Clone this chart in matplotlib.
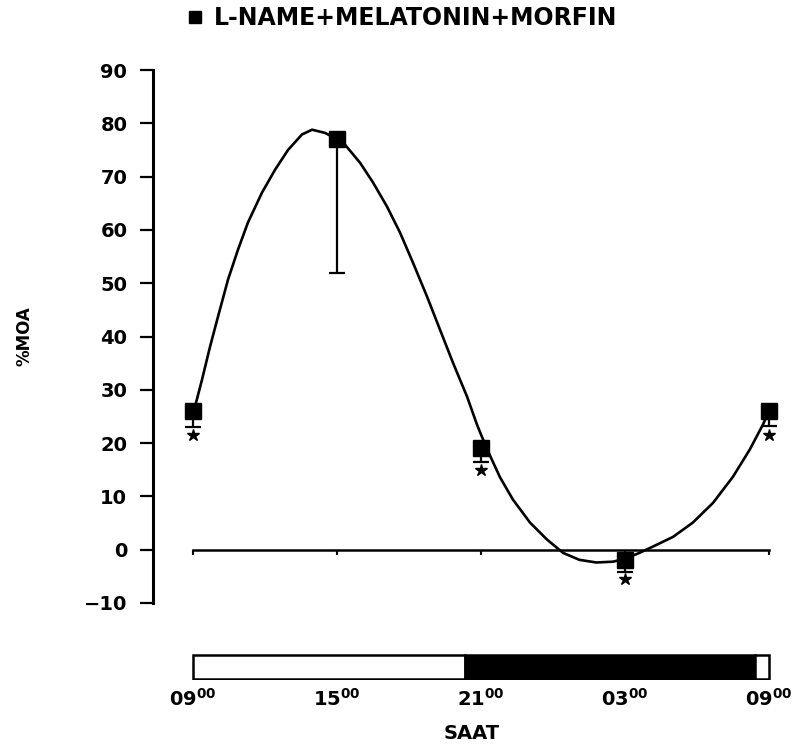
import numpy as np
import matplotlib.pyplot as plt
from matplotlib.lines import Line2D

plt.rcParams['font.family'] = 'DejaVu Sans'
plt.rcParams['font.weight'] = 'bold'
plt.rcParams['mathtext.fontset'] = 'dejavusans'
plt.rcParams['mathtext.default'] = 'bf'

# hours after 09:00
hours = [0, 6, 12, 18, 24]
moa_mean = [26, 77, 19, -2, 26]
moa_err_low = [3, 25, 2.5, 2.2, 2.7]
star_hours = [0, 12, 18, 24]
star_vals = [21.5, 15, -5.5, 21.5]
tick_labels = [r'$\mathbf{09^{00}}$', r'$\mathbf{15^{00}}$', r'$\mathbf{21^{00}}$',
               r'$\mathbf{03^{00}}$', r'$\mathbf{09^{00}}$']

# fitted rhythm curve
fit_hours = [0, 0.08, 0.375, 0.71, 1.04, 1.46, 1.875, 2.29, 2.875, 3.42, 3.96, 4.54,
             4.96, 5.5, 5.79, 6.33, 6.96, 7.5, 8.08, 8.625, 9.17, 9.75, 10.29, 10.83,
             11.42, 11.83, 12.0, 12.38, 12.79, 13.33, 14.04, 14.75, 15.42, 16.1, 16.8,
             17.5, 18.0, 18.6, 19.17, 20.0, 20.83, 21.67, 22.5, 23.2, 23.75, 24]
fit_vals = [26, 26.8, 31.9, 38.1, 43.7, 50.7, 56.3, 61.4, 67.0, 71.3, 75.0, 77.9,
            78.8, 78.2, 77.5, 76.0, 72.6, 68.9, 64.4, 59.5, 53.8, 47.5, 41.3, 35.1,
            28.7, 23.5, 21.6, 17.6, 13.6, 9.4, 5.1, 1.9, -0.6, -1.9, -2.4,
            -2.25, -1.7, -0.6, 0.6, 2.4, 5.1, 8.8, 13.7, 18.8, 23.5, 26]

# light / dark phases (hours after 09:00)
phase_start = [0, 11.33, 23.42]
phase_end = [11.33, 23.42, 24]
phase_colors = ['white', 'black', 'white']

W, H = 798, 750
fig = plt.figure(figsize=(W / 100, H / 100), dpi=100)

x0, x1 = -1.667, 24.875
ax = fig.add_axes([153 / W, (H - 603) / H, (x1 - x0) * 24 / W, 533 / H])
ax.set_xlim(x0, x1)
ax.set_ylim(-10, 90)
for s in ['top', 'right', 'bottom']:
    ax.spines[s].set_visible(False)
ax.spines['left'].set_linewidth(2.2)
ax.set_xticks([])
ax.set_yticks(np.arange(-10, 91, 10))
ax.tick_params(axis='y', length=9.5, width=1.6, pad=9, labelsize=14)
ax.set_ylabel('%MOA', fontsize=12, fontweight='bold', labelpad=36)

# zero reference line with small down ticks
ax.plot([hours[0], hours[-1]], [0, 0], color='black', lw=1.8)
ax.vlines(hours, -1.0, 0, color='black', lw=1.5)

ax.plot(fit_hours, fit_vals, color='black', lw=1.9, solid_joinstyle='round')
ax.errorbar(hours, moa_mean, yerr=[moa_err_low, np.zeros(len(hours))], fmt='none',
            ecolor='black', elinewidth=1.6, capsize=6, capthick=1.6)
ax.plot(hours, moa_mean, 's', color='black', markersize=11,
        label='L-NAME+MELATONIN+MORFIN')
ax.plot(star_hours, star_vals, '*', color='black', markersize=9)

handle = Line2D([], [], marker='s', color='black', linestyle='none', markersize=8)
fig.legend([handle], ['L-NAME+MELATONIN+MORFIN'], loc='center',
           bbox_to_anchor=(400 / W, (H - 18) / H), frameon=False,
           prop={'size': 17, 'weight': 'bold'}, handletextpad=0.3, handlelength=1.0)

# light/dark bar
bx = fig.add_axes([153 / W, (H - 680) / H, (x1 - x0) * 24 / W, 26 / H])
bx.set_xlim(x0, x1)
bx.set_ylim(0, 1)
for st, en, c in zip(phase_start, phase_end, phase_colors):
    bx.barh(0.5, en - st, left=st, height=0.92, color=c, edgecolor='black', linewidth=1.8)
for s in bx.spines.values():
    s.set_visible(False)
bx.set_yticks([])
bx.set_xticks(hours)
bx.set_xticklabels(tick_labels, fontsize=14)
bx.tick_params(axis='x', length=0, pad=6)
bx.set_xlabel('SAAT', fontsize=14, fontweight='bold', labelpad=10)

fig.savefig('out.png', dpi=100)
